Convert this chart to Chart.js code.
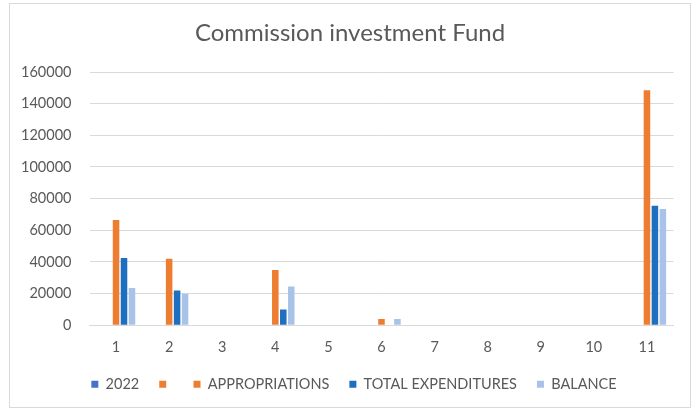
<!DOCTYPE html>
<html>
<head>
<meta charset="utf-8">
<script src="https://cdn.jsdelivr.net/npm/chart.js@4.4.0/dist/chart.umd.min.js"></script>
<style>
    body { margin: 0; background: #fff; }
    #frame {
        position: absolute;
        left: 9px;
        top: 3px;
        width: 680px;
        height: 403px;
        border: 1px solid #d9d9d9;
    }
</style>
</head>
<body>
<div id="frame"><canvas id="chart" width="680" height="403"></canvas></div>
<script>
const categories = ['1', '2', '3', '4', '5', '6', '7', '8', '9', '10', '11'];

// first two series are empty in the source chart
const series2022 = [0, 0, 0, 0, 0, 0, 0, 0, 0, 0, 0];
const seriesBlank = [0, 0, 0, 0, 0, 0, 0, 0, 0, 0, 0];
const appropriations = [66500, 42000, 0, 35000, 0, 4000, 0, 0, 0, 0, 148500];
const totalExpenditures = [42500, 22000, 0, 10000, 0, 0, 0, 0, 0, 0, 75500];
const balance = [23500, 20000, 0, 24500, 0, 4000, 0, 0, 0, 0, 73500];

const yTicks = [0, 20000, 40000, 60000, 80000, 100000, 120000, 140000, 160000];

const fontFamily = "Lato, 'Open Sans', sans-serif";
const textColor = '#595959';

function barSet(label, data, color) {
    return {
        label: label,
        data: data,
        backgroundColor: color,
        borderWidth: 0,
        categoryPercentage: 0.75,
        barPercentage: 0.82
    };
}

// title and legend are centred on the whole frame, not on the padded area
const centerBlocks = {
    id: 'centerBlocks',
    afterLayout(chart) {
        const t = chart.titleBlock;
        t.left = 0;
        t.right = chart.width;
        t.width = chart.width;
        const l = chart.legend;
        l.left = 8;
        l.right = chart.width;
        l.width = chart.width - 8;
    }
};

let config = {
    type: 'bar',
    data: {
        labels: categories,
        datasets: [
            barSet('2022', series2022, '#4472c4'),
            barSet('', seriesBlank, '#ed7d31'),
            barSet('APPROPRIATIONS', appropriations, '#ed7d31'),
            barSet('TOTAL EXPENDITURES', totalExpenditures, '#1f6fc0'),
            barSet('BALANCE', balance, '#a9c2e8')
        ]
    },
    options: {
        responsive: false,
        animation: false,
        layout: {
            padding: { left: 0, right: 16.5, top: 0, bottom: 5.6 }
        },
        plugins: {
            title: {
                display: true,
                text: 'Commission investment Fund',
                color: textColor,
                font: { family: fontFamily, size: 24, weight: 'normal' },
                padding: { top: 14.6, bottom: 24.6 }
            },
            legend: {
                position: 'bottom',
                labels: {
                    boxWidth: 7,
                    boxHeight: 7,
                    padding: 20,
                    color: textColor,
                    font: { family: fontFamily, size: 14.5 }
                }
            },
            tooltip: { enabled: false }
        },
        scales: {
            x: {
                afterFit: function (scale) { scale.height = 31.6; },
                grid: { display: false, drawTicks: false },
                border: { color: '#d9d9d9' },
                ticks: {
                    color: textColor,
                    padding: 13,
                    font: { family: fontFamily, size: 14.5 }
                }
            },
            y: {
                min: 0,
                max: 160000,
                afterFit: function (scale) { scale.width = 79.5; },
                afterBuildTicks: function (scale) {
                    scale.ticks = yTicks.map(v => ({ value: v }));
                },
                grid: { color: '#d9d9d9', drawTicks: false },
                border: { display: false },
                ticks: {
                    color: textColor,
                    padding: 18,
                    font: { family: fontFamily, size: 14.5 },
                    callback: v => String(v)
                }
            }
        }
    },
    plugins: [centerBlocks]
};

let ctx = document.getElementById('chart').getContext('2d');
let chart = new Chart(ctx, config);
</script>
</body>
</html>
